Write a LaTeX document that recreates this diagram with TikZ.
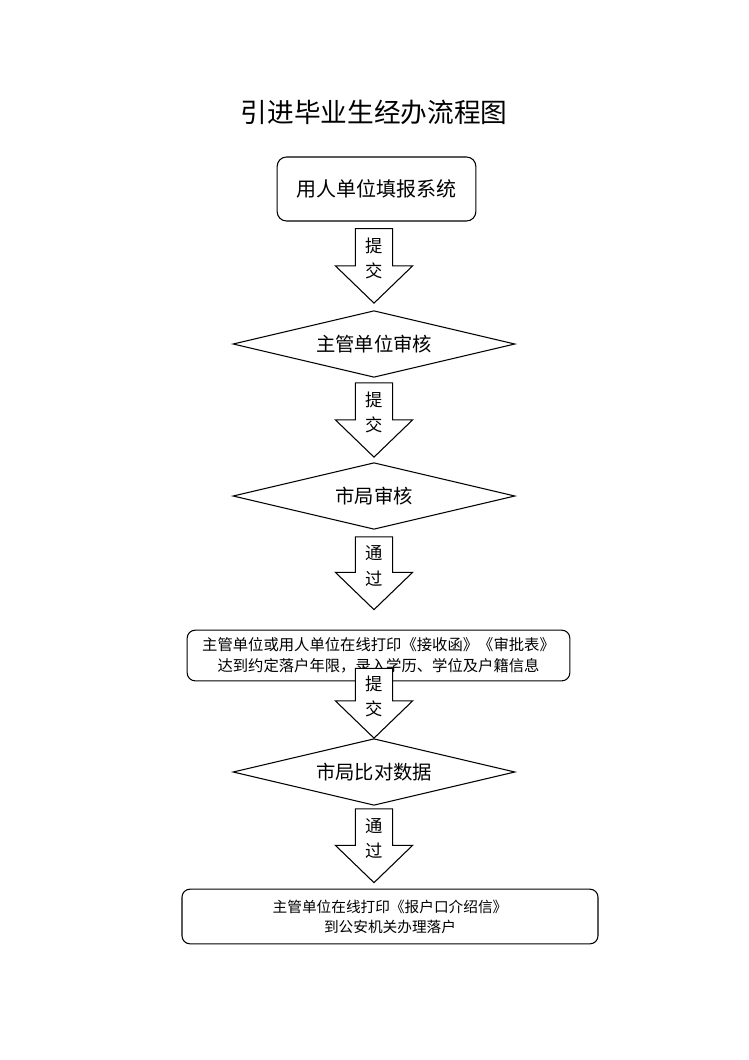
\documentclass[tikz,border=0pt]{standalone}
\usepackage{fontspec}
\setmainfont{Noto Sans CJK SC}
\usetikzlibrary{positioning,shapes.geometric,calc}

\begin{document}
\begin{tikzpicture}[x=0.75pt, y=-0.75pt,
    box/.style={rectangle, rounded corners=7pt, draw, line width=0.8pt, align=center, inner sep=0pt},
    check/.style={diamond, aspect=4.23, draw, line width=0.8pt, minimum width=211.5pt, minimum height=50pt,
      inner sep=0pt, font=\fontsize{14.5}{17}\selectfont},
    blkarrow/.style={draw, fill=white, line width=0.8pt, line join=miter},
    arrowtext/.style={align=center, font=\fontsize{13}{19}\selectfont}]
    \useasboundingbox (0,0) rectangle (749,1060);
    \coordinate (axis) at (374,0);
    \node (title) at (374,112) {\fontsize{20}{24}\selectfont 引进毕业生经办流程图};
    \node[box, minimum width=149pt, minimum height=48pt, font=\fontsize{15}{18}\selectfont]
      (sys) at (376.5,189) {用人单位填报系统};
    \node[check] (chk1) at (374,344) {主管单位审核};
    \node[check] (chk2) at (374,496) {市局审核};
    \node[box, rounded corners=6pt, minimum width=287pt, minimum height=38pt,
      font=\fontsize{11.5}{15.75}\selectfont] (prt) at (378.5,655.5)
      {主管单位或用人单位在线打印《接收函》《审批表》\\达到约定落户年限，录入学历、学位及户籍信息};
    \node[check] (cmp) at (374,772) {市局比对数据};
    \node[box, rounded corners=6pt, minimum width=312pt, minimum height=41pt,
      font=\fontsize{11}{15}\selectfont] (reg) at (390,916.5)
      {主管单位在线打印《报户口介绍信》\\到公安机关办理落户};
    % hollow arrows between the steps
    \foreach \src/\da/\dst/\db/\lbl [count=\i] in
      {sys/7/chk1/7/提\\交, chk1/5/chk2/5/提\\交, chk2/7/prt/20/通\\过,
       prt/-13/cmp/0/提\\交, cmp/3/reg/6/通\\过}{
      \coordinate (top\i) at ($(axis |- \src.south)+(0,\da)$);
      \coordinate (tip\i) at ($(axis |- \dst.north)+(0,-\db)$);
      \draw[blkarrow] let \p1=(top\i), \p2=(tip\i) in
        (\x2-14pt,\y1) -- (\x2+14pt,\y1) -- (\x2+14pt,\y2+28pt) -- (\x2+29pt,\y2+28pt)
        -- (\x2,\y2) -- (\x2-29pt,\y2+28pt) -- (\x2-14pt,\y2+28pt) -- cycle;
      \node[arrowtext] (lbl\i) at ($(top\i)!0.4!(tip\i)$) {\lbl};
    }
\end{tikzpicture}
\end{document}
